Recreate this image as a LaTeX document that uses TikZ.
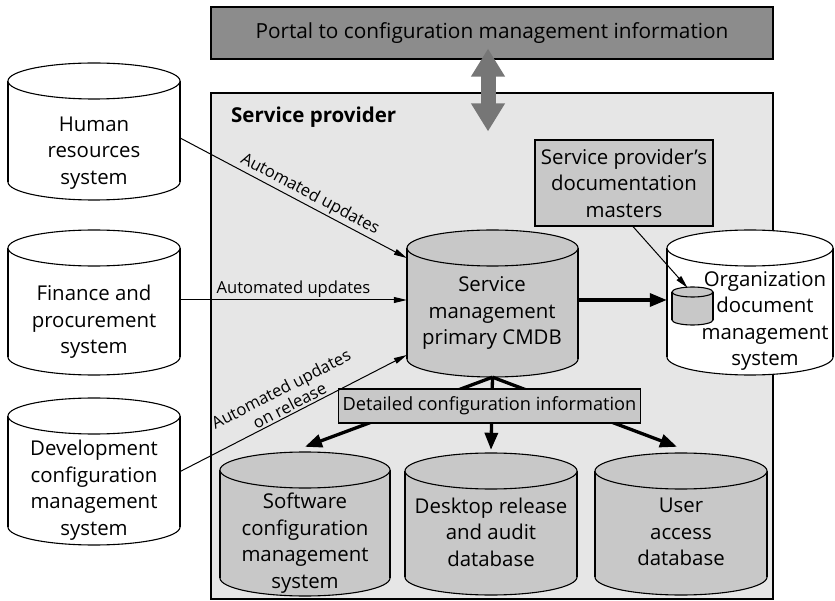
\documentclass[tikz,border=0pt]{standalone}
\usepackage{fontspec}
\setmainfont{Open Sans}
\usetikzlibrary{arrows.meta}
\definecolor{portalgray}{RGB}{140,140,140}
\definecolor{arrowgray}{RGB}{118,118,118}
\definecolor{spgray}{RGB}{230,230,230}
\definecolor{dbgray}{RGB}{200,200,200}

\tikzset{
  cylline/.style={draw=black, line width=1.1pt},
  txt/.style={align=center, font=\fontsize{20.4}{26.5}\selectfont, inner sep=0pt},
  smalltxt/.style={align=center, font=\fontsize{18.2}{22}\selectfont, inner sep=0pt},
  lbl/.style={font=\fontsize{16.6}{18.5}\selectfont, inner sep=2pt, align=center},
  feed/.style={line width=1pt, -{Triangle[length=13pt,width=6pt]}},
  bigflow/.style={line width=3.3pt, -{Triangle[length=17pt,width=13pt]}},
  panel/.style={draw=black, line width=1.1pt, inner sep=0pt},
}

% database cylinder: name, left, top, right, bottom, ellipse half-height, fill
\newcommand\dbcyl[7]{%
  \pgfmathsetmacro\cylw{#4-#2}%
  \pgfmathsetmacro\cylh{#5-#3}%
  \filldraw[fill=#7, cylline] ({(#2+#4)/2},{#5-#6}) ellipse [x radius={(#4-#2)/2}, y radius=#6];
  \fill[#7] (#2,{#3+#6}) rectangle (#4,{#5-#6});
  \draw[cylline] (#2,{#3+#6}) -- (#2,{#5-#6}) (#4,{#3+#6}) -- (#4,{#5-#6});
  \filldraw[fill=#7, cylline] ({(#2+#4)/2},{#3+#6}) ellipse [x radius={(#4-#2)/2}, y radius=#6];
  \node[inner sep=0pt, minimum width=\cylw pt, minimum height=\cylh pt] (#1) at ({(#2+#4)/2},{(#3+#5)/2}) {};
}

\begin{document}
\begin{tikzpicture}[x=1pt,y=-1pt]
\useasboundingbox (0,0) rectangle (835,601);

% portal and service provider frame
\node[panel, fill=portalgray, minimum width=562pt, minimum height=52pt, align=center,
      font=\fontsize{20.8}{24}\selectfont] (portal) at (492,33) {Portal to configuration management information};
\node[panel, fill=spgray, minimum width=562pt, minimum height=506pt] (sp) at (492,346) {};
\node[anchor=west, inner sep=0pt, font=\bfseries\fontsize{20.5}{24}\selectfont] (spT) at (231,117) {Service provider};

\draw[line width=15pt, arrowgray, {Triangle[length=28pt,width=32pt]}-{Triangle[length=28pt,width=32pt]}]
  ([xshift=-4pt,yshift=11pt]portal.south) -- ([xshift=-4pt,yshift=-39pt]sp.north);

% external systems
\dbcyl{hr}{8}{63}{180}{200}{18}{white}
\node[txt] (hrT) at (94,153) {Human\\resources\\system};
\dbcyl{fin}{8}{230}{180}{375}{18}{white}
\node[txt] (finT) at (94,322) {Finance and\\procurement\\system};
\dbcyl{dev}{8}{398}{180}{545}{18}{white}
\node[txt] (devT) at (94,490) {Development\\configuration\\management\\system};

% primary CMDB and document management
\dbcyl{cmdb}{407}{230}{578}{377}{18}{dbgray}
\node[txt] (cmdbT) at (492,313) {Service\\management\\primary CMDB};
\dbcyl{org}{667}{230}{833}{375}{18}{white}
\node[txt] (orgT) at (765,321) {Organization\\document\\management\\system};
\dbcyl{mini}{672}{287}{713}{325}{5}{dbgray}

\node[panel, fill=dbgray, minimum width=178pt, minimum height=86pt, txt] (spdoc) at (624,183) {Service provider’s\\documentation\\masters};

% detailed databases
\dbcyl{sw}{220}{452}{390}{596}{18}{dbgray}
\node[txt] (swT) at (305,543) {Software\\configuration\\management\\system};
\dbcyl{desk}{405}{453}{577}{595}{18}{dbgray}
\node[txt] (deskT) at (491,532) {Desktop release\\and audit\\database};
\dbcyl{user}{595}{453}{767}{595}{18}{dbgray}
\node[txt] (userT) at (681,532) {User\\access\\database};

% distribution of detailed configuration information
\draw[bigflow] (cmdb.south) -- ([yshift=5pt]sw.north);
\draw[bigflow] (cmdb.south) -- ([yshift=3pt]desk.north);
\draw[bigflow] (cmdb.south) -- ([xshift=-4pt,yshift=6pt]user.north);
\node[panel, fill=dbgray, minimum width=302pt, minimum height=34pt, smalltxt] (detail) at (489.5,406) {Detailed configuration information};

\draw[bigflow] ([yshift=3.5pt]cmdb.east) -- ([yshift=3.5pt]cmdb.east -| org.west);

% automated feeds
\draw[feed] ([yshift=-6.5pt]hr.east) -- node[lbl, sloped, above, pos=0.55] {Automated updates} ([yshift=45.5pt]cmdb.west);
\draw[feed] ([yshift=2.5pt]fin.east) -- node[lbl, above] {Automated updates} ([yshift=2.5pt]fin.east -| cmdb.west);
\draw[feed] (dev.east) -- node[lbl, sloped, above, pos=0.5] {Automated updates\\on release} ([yshift=-51.5pt]cmdb.west);

\draw[feed] ([xshift=9pt]spdoc.south) -- ([xshift=-5pt,yshift=-1pt]mini.north);
\end{tikzpicture}
\end{document}
